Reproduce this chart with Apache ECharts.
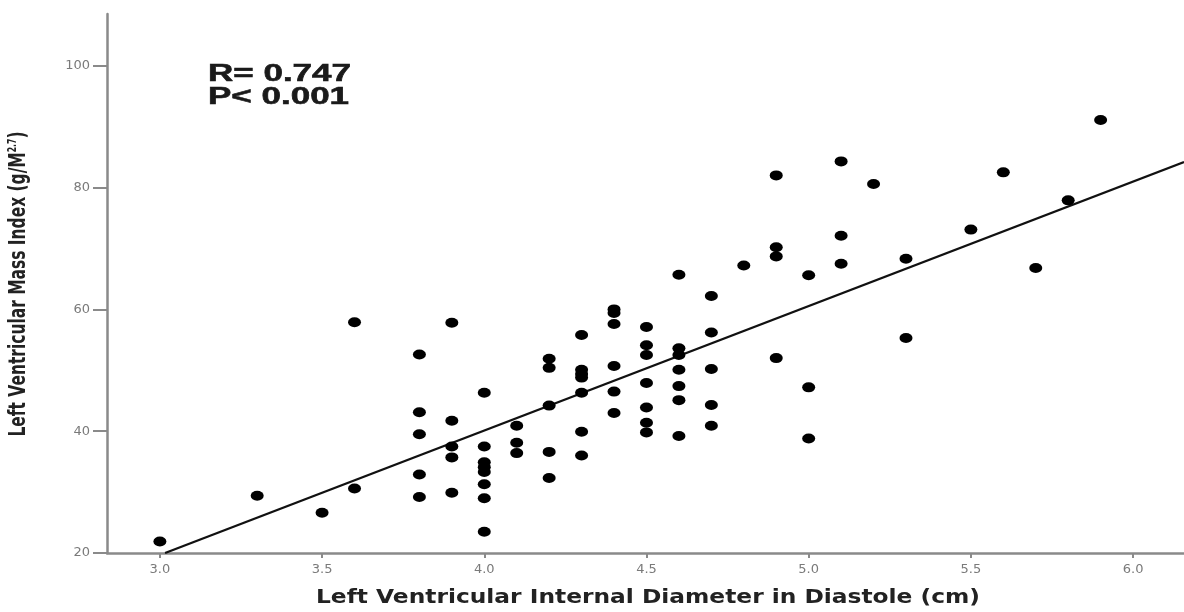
<!DOCTYPE html>
<html>
<head>
<meta charset="utf-8">
<script src="https://cdn.jsdelivr.net/npm/echarts@6/dist/echarts.min.js"></script>
<style>
html, body { margin: 0; padding: 0; background: #fff; }
#container { width: 1184px; height: 612px; }
</style>
</head>
<body>
<div id="container"></div>
<script>
// data
var diameters = [3.0, 3.3, 3.5, 3.6, 3.8, 3.9, 4.0, 4.1, 4.2, 4.3, 4.4, 4.5, 4.6, 4.7, 4.8, 4.9, 5.0, 5.1, 5.2, 5.3, 5.5, 5.6, 5.7, 5.8, 5.9];
var massByDiameter = [
    [21.9],
    [29.4],
    [26.6],
    [30.6, 57.9],
    [52.6, 43.1, 39.5, 32.9, 29.2],
    [57.8, 41.7, 37.5, 35.7, 29.9],
    [46.3, 37.5, 34.9, 34.1, 33.3, 31.3, 29.0, 23.5],
    [40.9, 38.1, 36.4],
    [51.9, 50.4, 44.2, 36.6, 32.3],
    [55.8, 50.1, 49.4, 48.8, 46.3, 39.9, 36.0],
    [60.0, 59.4, 57.6, 50.7, 46.5, 43.0],
    [57.1, 54.1, 52.5, 47.9, 43.9, 41.4, 39.8],
    [65.7, 53.6, 52.5, 50.1, 47.4, 45.1, 39.2],
    [62.2, 56.2, 50.2, 44.3, 40.9],
    [67.2],
    [82.0, 70.2, 68.7, 52.0],
    [65.6, 47.2, 38.8],
    [84.3, 72.1, 67.5],
    [80.6],
    [68.3, 55.3],
    [73.1],
    [82.5],
    [66.8],
    [77.9],
    [91.1]
];
// fit line end points
var fitLine = [[3.016, 20.0], [6.157, 84.2]];

var xTicks = [3.0, 3.5, 4.0, 4.5, 5.0, 5.5, 6.0];
var yTicks = [20, 40, 60, 80, 100];

var statLines = ['R= 0.747', 'P< 0.001'];
var xName = 'Left Ventricular Internal Diameter in Diastole (cm)';
var yName = 'Left Ventricular Mass Index (g/M';
var yNameSup = '2.7';

var points = [];
diameters.forEach(function (d, i) {
    massByDiameter[i].forEach(function (m) {
        points.push([d, m]);
    });
});

// measure text so the stretched labels can be scaled to fit
var measureCtx = document.createElement('canvas').getContext('2d');
function textWidth(str, font) {
    measureCtx.font = font;
    return measureCtx.measureText(str).width;
}

var statFont = 'bold 24px "Liberation Sans", Arial, sans-serif';
var statScale = 143 / textWidth(statLines[0], statFont);

var xNameFont = 'bold 19px "DejaVu Sans", Verdana, sans-serif';
var xNameScale = 664 / textWidth(xName, xNameFont);

var yNameFamily = '"Liberation Sans Narrow", "DejaVu Sans Condensed", "Liberation Sans", sans-serif';
var yNameW = textWidth(yName + ')', 'bold 20px ' + yNameFamily) + textWidth(yNameSup, 'bold 10px ' + yNameFamily);
var yNameScale = 305 / yNameW;

var dom = document.getElementById('container');
var myChart = echarts.init(dom, null, { renderer: 'canvas' });

var axisGrey = '#8a8a8a';
var labelGrey = '#7a7a7a';

var option = {
    animation: false,
    backgroundColor: '#fff',
    grid: {
        left: 107,
        right: 0,
        top: 14,
        bottom: 59,
        outerBoundsMode: 'none'
    },
    xAxis: {
        type: 'value',
        min: 2.837,
        max: 6.157,
        splitLine: { show: false },
        axisLine: { show: true, lineStyle: { color: axisGrey, width: 2.5 } },
        axisTick: {
            show: true,
            customValues: xTicks,
            length: 5,
            lineStyle: { color: axisGrey, width: 2 }
        },
        axisLabel: {
            customValues: xTicks,
            margin: 10,
            color: labelGrey,
            fontFamily: '"DejaVu Sans", sans-serif',
            fontSize: 13,
            formatter: function (v) { return v.toFixed(1); }
        }
    },
    yAxis: {
        type: 'value',
        min: 20,
        max: 108.5,
        splitLine: { show: false },
        axisLine: { show: true, lineStyle: { color: axisGrey, width: 2.5 } },
        axisTick: {
            show: true,
            customValues: yTicks,
            length: 14,
            lineStyle: { color: axisGrey, width: 2 }
        },
        axisLabel: {
            customValues: yTicks,
            margin: 17,
            color: labelGrey,
            fontFamily: '"DejaVu Sans", sans-serif',
            fontSize: 13
        }
    },
    series: [
        {
            type: 'scatter',
            data: points,
            symbol: 'circle',
            symbolSize: [13, 10],
            itemStyle: { color: '#000', opacity: 1 },
            z: 3
        },
        {
            type: 'line',
            data: fitLine,
            showSymbol: false,
            symbol: 'none',
            lineStyle: { color: '#111', width: 2.2 },
            z: 2
        }
    ],
    graphic: [
        {
            type: 'text',
            x: 208,
            y: 74,
            scaleX: statScale,
            style: {
                text: statLines[0],
                font: statFont,
                fill: '#1a1a1a',
                stroke: '#1a1a1a',
                lineWidth: 0.6,
                align: 'left', textAlign: 'left',
                verticalAlign: 'middle', textVerticalAlign: 'middle'
            }
        },
        {
            type: 'text',
            x: 208,
            y: 97,
            scaleX: statScale,
            style: {
                text: statLines[1],
                font: statFont,
                fill: '#1a1a1a',
                stroke: '#1a1a1a',
                lineWidth: 0.6,
                align: 'left', textAlign: 'left',
                verticalAlign: 'middle', textVerticalAlign: 'middle'
            }
        },
        {
            type: 'text',
            x: 648,
            y: 598,
            scaleX: xNameScale,
            style: {
                text: xName,
                font: xNameFont,
                fill: '#222',
                align: 'center', textAlign: 'center',
                verticalAlign: 'middle', textVerticalAlign: 'middle'
            }
        },
        {
            type: 'text',
            x: 19,
            y: 284,
            rotation: Math.PI / 2,
            scaleX: yNameScale,
            scaleY: 1.15,
            style: {
                text: '{a|' + yName + '}{s|' + yNameSup + '}{a|)}',
                align: 'center', textAlign: 'center',
                verticalAlign: 'middle', textVerticalAlign: 'middle',
                rich: {
                    a: { fontFamily: yNameFamily, fontWeight: 'bold', fontSize: 20, fill: '#222', color: '#222' },
                    s: { fontFamily: yNameFamily, fontWeight: 'bold', fontSize: 10, fill: '#222', color: '#222', verticalAlign: 'top' }
                }
            }
        }
    ]
};

myChart.setOption(option);
window.addEventListener('resize', myChart.resize);
</script>
</body>
</html>
